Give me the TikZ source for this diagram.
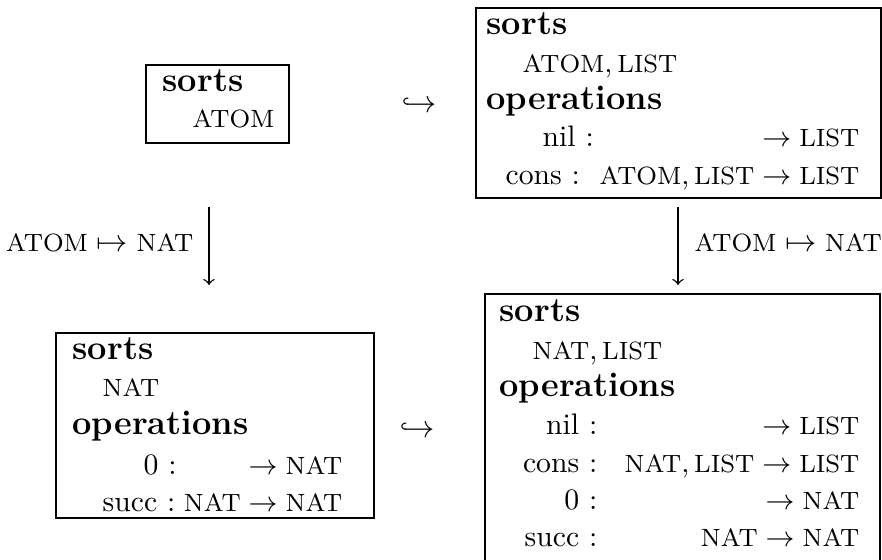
\documentclass[tikz,border=0pt]{standalone}
\usepackage{amsmath}
\usepackage{amssymb}
\usetikzlibrary{positioning}

\newcommand{\srt}[1]{\text{\footnotesize #1}}
\newcommand{\px}{0.32pt}

\begin{document}
\begin{tikzpicture}[x=0.32pt, y=-0.32pt,
    sigbox/.style={draw, line width=0.6pt, inner sep=0pt, anchor=north west},
    kw/.style={anchor=base west, inner sep=0pt, font=\fontsize{11}{13}\selectfont\bfseries},
    txt/.style={anchor=base west, inner sep=0pt, font=\fontsize{9.5}{11}\selectfont},
    rtxt/.style={anchor=base east, inner sep=0pt, font=\fontsize{9.5}{11}\selectfont},
    hook/.style={anchor=base, inner sep=0pt},
    maparrow/.style={->, line width=0.45pt}
]
\useasboundingbox (0,0) rectangle (882,560);

% Boxes
\node[sigbox, minimum width=143*\px, minimum height=78*\px] (atom) at (145,64) {};
\node[sigbox, minimum width=405*\px, minimum height=190*\px] (list) at (475,7) {};
\node[sigbox, minimum width=318*\px, minimum height=185*\px] (nat) at (55,332) {};
\node[sigbox, minimum width=395*\px, minimum height=290*\px] (natlist) at (484,293) {};

% ATOM
\node[kw] (atom-s) at (162,92) {sorts};
\node[txt] (atom-s1) at (192,128) {$\srt{ATOM}$};

% ATOM, LIST
\node[kw] (list-s) at (486,35) {sorts};
\node[txt] (list-s1) at (522,73) {$\srt{ATOM},\srt{LIST}$};
\node[kw] (list-o) at (486,110) {operations};
\node[txt] (list-o1) at (542,147) {nil :};
\node[rtxt] (list-o1r) at (860,147) {$\to\srt{LIST}$};
\node[txt] (list-o2) at (505,185) {cons :};
\node[rtxt] (list-o2r) at (860,185) {$\srt{ATOM},\srt{LIST}\to\srt{LIST}$};

% NAT
\node[kw] (nat-s) at (72,360) {sorts};
\node[txt] (nat-s1) at (102,397) {$\srt{NAT}$};
\node[kw] (nat-o) at (72,435) {operations};
\node[txt] (nat-o1) at (143,475) {0 :};
\node[rtxt] (nat-o1r) at (343,475) {$\to\srt{NAT}$};
\node[txt] (nat-o2) at (102,512) {succ :};
\node[rtxt] (nat-o2r) at (343,512) {$\srt{NAT}\to\srt{NAT}$};

% NAT, LIST
\node[kw] (natlist-s) at (499,322) {sorts};
\node[txt] (natlist-s1) at (532,360) {$\srt{NAT},\srt{LIST}$};
\node[kw] (natlist-o) at (499,397) {operations};
\node[rtxt] (natlist-o1) at (598,435) {nil :};
\node[rtxt] (natlist-o1r) at (860,435) {$\to\srt{LIST}$};
\node[rtxt] (natlist-o2) at (598,473) {cons :};
\node[rtxt] (natlist-o2r) at (860,473) {$\srt{NAT},\srt{LIST}\to\srt{LIST}$};
\node[rtxt] (natlist-o3) at (598,510) {0 :};
\node[rtxt] (natlist-o3r) at (860,510) {$\to\srt{NAT}$};
\node[rtxt] (natlist-o4) at (598,547) {succ :};
\node[rtxt] (natlist-o4r) at (860,547) {$\srt{NAT}\to\srt{NAT}$};

% Inclusions
\node[hook] (inc-top) at (419,113) {$\hookrightarrow$};
\node[hook] (inc-bot) at (417,438) {$\hookrightarrow$};

% Renamings
\coordinate (l-top) at (209,207);
\coordinate (l-bot) at (209,285);
\coordinate (r-top) at (678,207);
\coordinate (r-bot) at (678,285);
\draw[maparrow] (l-top) -- (l-bot);
\draw[maparrow] (r-top) -- (r-bot);
\node[anchor=base east, inner sep=0pt] (l-map) at (194,252) {$\srt{ATOM}\mapsto\srt{NAT}$};
\node[anchor=base west, inner sep=0pt] (r-map) at (694,252) {$\srt{ATOM}\mapsto\srt{NAT}$};

\end{tikzpicture}
\end{document}
